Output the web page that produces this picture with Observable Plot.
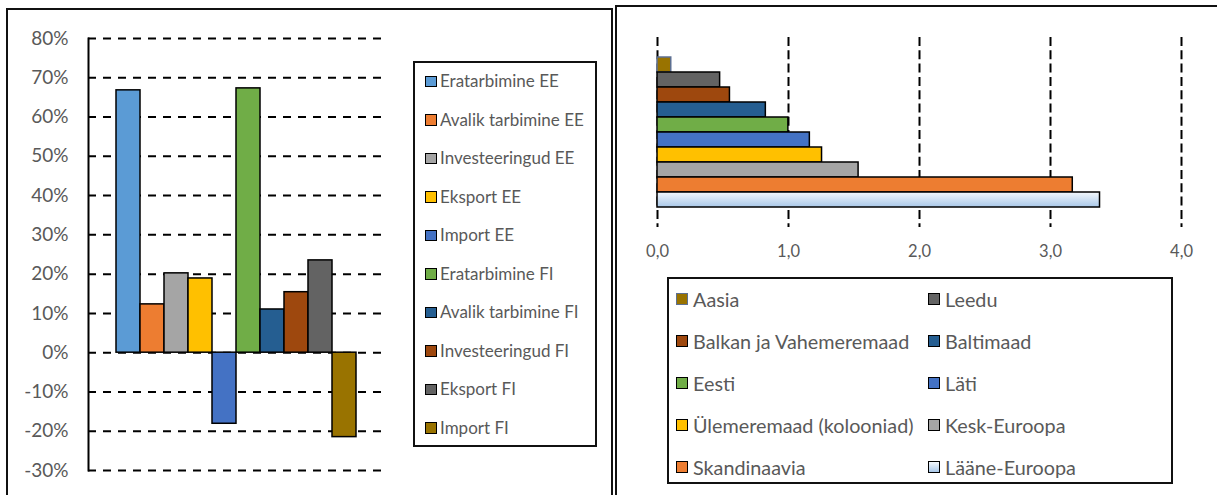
<!DOCTYPE html>
<html>
<head>
<meta charset="utf-8">
<script src="https://cdn.jsdelivr.net/npm/d3@7"></script>
<script src="https://cdn.jsdelivr.net/npm/@observablehq/plot@0.6"></script>
<style>
  body { margin: 0; background: #fff; font-family: Lato, "Open Sans", sans-serif; }
  #wrap { position: relative; width: 1217px; height: 495px; overflow: hidden; background: #fff; }
  .panel { position: absolute; box-sizing: border-box; border: 2px solid #111; }
  .plot { position: absolute; top: 0; }
  .legend { position: absolute; box-sizing: border-box; border: 2px solid #111; background: #fff; }
  .item { position: absolute; height: 20px; line-height: 20px; white-space: nowrap; color: #595959; }
  .sw { position: absolute; box-sizing: border-box; border: 1.5px solid #000; }
  .lbl { position: absolute; top: 0; }
</style>
</head>
<body>
<div id="wrap">
  <div class="panel" style="left:6px;top:8px;width:607px;height:600px;"></div>
  <div class="panel" style="left:615px;top:5px;width:700px;height:600px;"></div>
  <div id="plotL" class="plot" style="left:0px;"></div>
  <div id="plotR" class="plot" style="left:615px;"></div>
  <div id="legL" class="legend" style="left:413px;top:61px;width:184px;height:386px;"></div>
  <div id="legR" class="legend" style="left:667px;top:277px;width:506px;height:207px;"></div>
</div>
<script>
// ---- Left chart data ----
const leftSeries = ["Eratarbimine EE", "Avalik tarbimine EE", "Investeeringud EE", "Eksport EE", "Import EE",
                    "Eratarbimine FI", "Avalik tarbimine FI", "Investeeringud FI", "Eksport FI", "Import FI"];
const leftValues = [0.668, 0.123, 0.202, 0.189, -0.181, 0.673, 0.110, 0.154, 0.235, -0.215];
const leftColors = ["#5B9BD5", "#ED7D31", "#A5A5A5", "#FFC000", "#4472C4",
                    "#70AD47", "#255E91", "#9E480E", "#636363", "#997300"];
const leftTicks = [-0.3, -0.2, -0.1, 0, 0.1, 0.2, 0.3, 0.4, 0.5, 0.6, 0.7, 0.8];

// ---- Right chart data ----
const rightCategories = ["Aasia", "Leedu", "Balkan ja Vahemeremaad", "Baltimaad", "Eesti", "Läti",
                         "Ülemeremaad (kolooniad)", "Kesk-Euroopa", "Skandinaavia", "Lääne-Euroopa"];
const rightValues = [0.105, 0.478, 0.553, 0.827, 0.999, 1.163, 1.256, 1.535, 3.170, 3.378];
const rightColors = ["#997300", "#636363", "#9E480E", "#255E91", "#70AD47", "#4472C4",
                     "#FFC000", "#A5A5A5", "#ED7D31", "url(#laaneGrad)"];
const rightSwatchCss = ["#997300", "#636363", "#9E480E", "#255E91", "#70AD47", "#4472C4",
                        "#FFC000", "#A5A5A5", "#ED7D31", "linear-gradient(#f4f8fc, #a9c8e9)"];
const rightStrokes = ["#5d7092", "#000", "#000", "#000", "#000", "#000", "#000", "#000", "#000", "#000"];
const rightTicks = [0, 1, 2, 3, 4];

const leftData = leftSeries.map((s, i) => ({s, v: leftValues[i], c: leftColors[i]}));
const rightData = rightCategories.map((s, i) => ({s, v: rightValues[i], c: rightColors[i], k: rightStrokes[i]}));

// ---- Left plot ----
const plotL = Plot.plot({
  width: 612, height: 495,
  marginLeft: 88, marginRight: 229, marginTop: 38, marginBottom: 25,
  style: {background: "none", fontFamily: "Lato, 'Open Sans', sans-serif", fontSize: "19px", color: "#595959", overflow: "visible"},
  x: {domain: leftSeries, padding: 0, insetLeft: 27, insetRight: 26, axis: null},
  y: {domain: [-0.3, 0.8], ticks: leftTicks, tickFormat: d => Math.round(d * 100) + "%", tickSize: 0, tickPadding: 20, label: null},
  color: {type: "identity"},
  marks: [
    Plot.ruleY(leftTicks, {stroke: "#000", strokeWidth: 2, strokeDasharray: "8,7"}),
    Plot.barY(leftData, {x: "s", y: "v", fill: "c", stroke: "#000", strokeWidth: 1.5}),
    Plot.frame({anchor: "left", stroke: "#000", strokeWidth: 2})
  ]
});
document.getElementById("plotL").appendChild(plotL);

// ---- Right plot ----
const plotR = Plot.plot({
  width: 602, height: 280,
  marginLeft: 42, marginRight: 36, marginTop: 37, marginBottom: 53,
  style: {background: "none", fontFamily: "Lato, 'Open Sans', sans-serif", fontSize: "16.5px", color: "#595959", overflow: "visible"},
  x: {domain: [0, 4], ticks: rightTicks, tickFormat: d => d.toFixed(1).replace(".", ","), tickSize: 0, tickPadding: 18, label: null},
  y: {domain: rightCategories, padding: 0, insetTop: 17, insetBottom: 17, axis: null},
  color: {type: "identity"},
  marks: [
    Plot.ruleX(rightTicks, {stroke: "#000", strokeWidth: 2, strokeDasharray: "9,4.3"}),
    Plot.barX(rightData, {y: "s", x: "v", fill: "c", stroke: "k", strokeWidth: 1.5})
  ]
});
const ns = "http://www.w3.org/2000/svg";
const defs = document.createElementNS(ns, "defs");
defs.innerHTML = '<linearGradient id="laaneGrad" x1="0" y1="0" x2="0" y2="1">' +
  '<stop offset="0" stop-color="#f4f8fc"/><stop offset="1" stop-color="#a9c8e9"/></linearGradient>';
plotR.insertBefore(defs, plotR.firstChild);
document.getElementById("plotR").appendChild(plotR);

// ---- Left legend ----
const legL = document.getElementById("legL");
leftSeries.forEach((s, i) => {
  const it = document.createElement("div");
  it.className = "item";
  it.style.left = "0px";
  it.style.top = (18 + 38.5 * i - 10) + "px";
  it.style.fontSize = "17px";
  const sw = document.createElement("div");
  sw.className = "sw";
  sw.style.cssText = `left:10px;top:4.5px;width:11.5px;height:11.5px;background:${leftColors[i]};`;
  const lb = document.createElement("div");
  lb.className = "lbl";
  lb.style.left = "25px";
  lb.textContent = s;
  it.appendChild(sw); it.appendChild(lb);
  legL.appendChild(it);
});

// ---- Right legend ----
const legR = document.getElementById("legR");
rightCategories.forEach((s, i) => {
  const col = i % 2, row = Math.floor(i / 2);
  const it = document.createElement("div");
  it.className = "item";
  it.style.left = (col === 0 ? 7 : 259) + "px";
  it.style.top = (20.3 + 41.85 * row - 10) + "px";
  it.style.fontSize = "19.8px";
  const sw = document.createElement("div");
  sw.className = "sw";
  sw.style.cssText = `left:0px;top:4.2px;width:11.8px;height:11.8px;background:${rightSwatchCss[i]};border-color:${rightStrokes[i]};`;
  const lb = document.createElement("div");
  lb.className = "lbl";
  lb.style.left = "17px";
  lb.textContent = s;
  it.appendChild(sw); it.appendChild(lb);
  legR.appendChild(it);
});
</script>
</body>
</html>
